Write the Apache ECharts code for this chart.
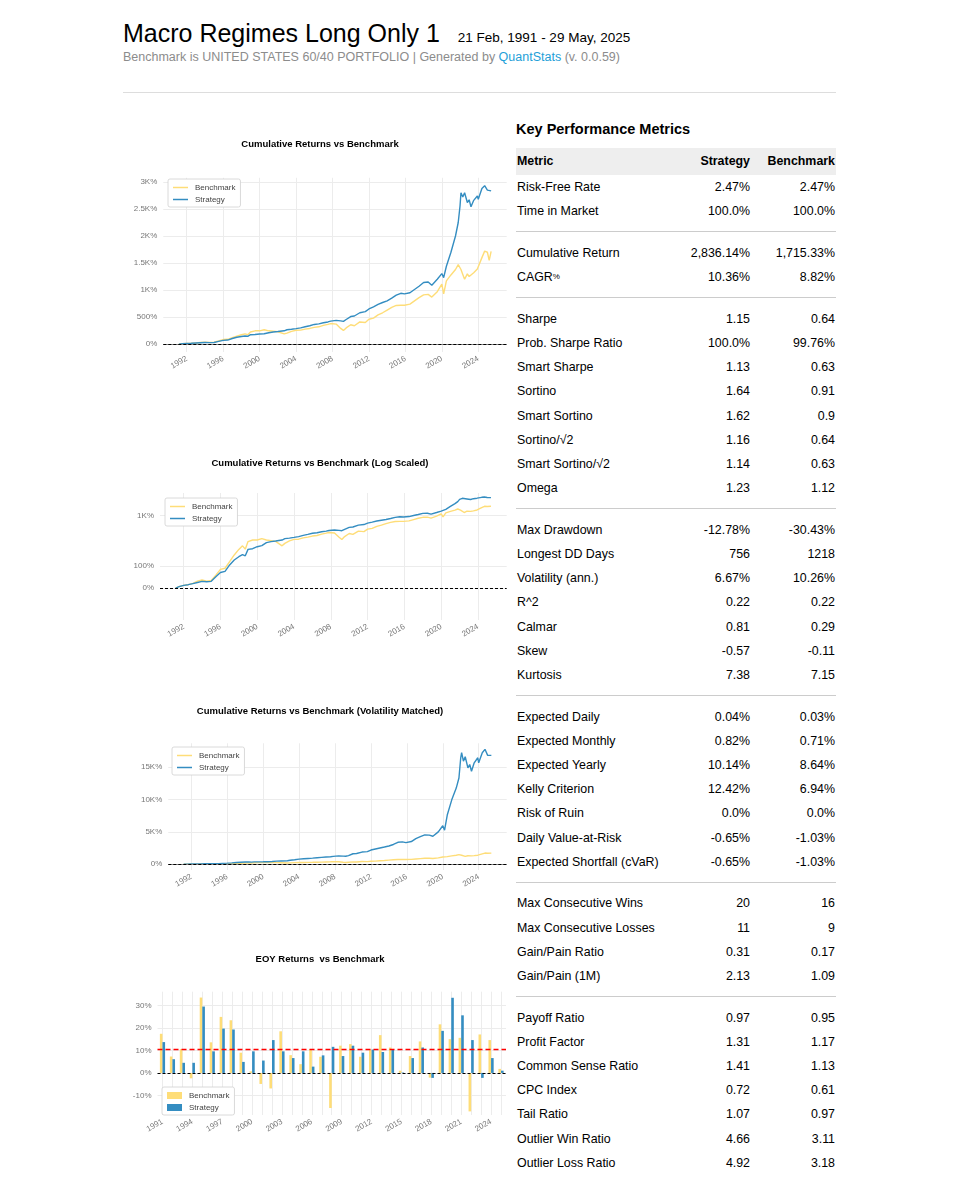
<!DOCTYPE html>
<html>
<head>
<meta charset="utf-8">
<script src="https://cdn.jsdelivr.net/npm/echarts@6.0.0/dist/echarts.min.js"></script>
<style>
body { margin: 0; background: #fff; font-family: Arial, "Liberation Sans", sans-serif; }
#page { position: relative; width: 960px; height: 1200px; }
.abs { position: absolute; white-space: nowrap; }
#head { left: 123px; top: 18.5px; line-height: 29px; display: flex; align-items: baseline; }
#head .t { font-size: 25px; color: #000; }
#head .d { font-size: 13.5px; color: #000; margin-left: 18px; }
#sub { left: 123px; top: 49.7px; font-size: 12.5px; line-height: 14px; color: #8c8c8c; }
#sub a { color: #1ea0d8; text-decoration: none; }
#rule { left: 123px; top: 92px; width: 713px; border-top: 1px solid #ddd; }
#kpm { left: 516px; top: 121px; font-size: 14.5px; line-height: 17px; font-weight: bold; color: #000; }
#metrics { left: 516px; top: 148px; width: 320px; font-size: 12.4px; color: #000; }
.row { position: relative; height: 24.2px; line-height: 24.2px; }
.row.head { height: 27px; line-height: 27px; background: #eee; font-weight: bold; }
.row span { position: absolute; top: 0; }
.c1 { left: 1px; }
.c2 { right: 86px; }
.c3 { right: 1px; }
.sep { position: relative; height: 17.5px; }
.sep div { position: absolute; left: 0; right: 0; top: 8px; border-top: 1px solid #ccc; }
.chart { position: absolute; left: 120px; width: 400px; }
</style>
</head>
<body>
<div id="page">
  <div id="head" class="abs"><span class="t">Macro Regimes Long Only 1</span><span class="d">21 Feb, 1991 - 29 May, 2025</span></div>
  <div id="sub" class="abs">Benchmark is UNITED STATES 60/40 PORTFOLIO | Generated by <a>QuantStats</a> (v. 0.0.59)</div>
  <div id="rule" class="abs"></div>
  <div id="kpm" class="abs">Key Performance Metrics</div>
  <div id="metrics" class="abs"></div>

  <div id="cumChart" class="chart" style="top:130px;height:250px"></div>
  <div id="logChart" class="chart" style="top:450px;height:200px"></div>
  <div id="volChart" class="chart" style="top:700px;height:200px"></div>
  <div id="eoyChart" class="chart" style="top:945px;height:200px"></div>
</div>

<script>
// ---- data (cumulative returns in %) ----
const years = [1991.14, 1991.5, 1992.0, 1992.5, 1993.0, 1993.5, 1994.0, 1994.5, 1995.0, 1995.5,
  1996.0, 1996.5, 1997.0, 1997.5, 1998.0, 1998.4, 1998.7, 1999.0, 1999.5, 2000.0,
  2000.5, 2001.0, 2001.5, 2002.0, 2002.7, 2003.0, 2003.5, 2004.0, 2004.5, 2005.0,
  2005.5, 2006.0, 2006.5, 2007.0, 2007.5, 2007.8, 2008.0, 2008.4, 2008.9, 2009.2,
  2009.5, 2010.0, 2010.4, 2011.0, 2011.6, 2012.0, 2012.5, 2013.0, 2013.5, 2014.0,
  2014.5, 2015.0, 2015.5, 2015.9, 2016.1, 2016.5, 2017.0, 2017.5, 2018.0, 2018.5,
  2018.9, 2019.5, 2020.0, 2020.2, 2020.5, 2021.0, 2021.5, 2021.8, 2022.0, 2022.1,
  2022.3, 2022.5, 2022.8, 2023.0, 2023.2, 2023.5, 2023.9, 2024.0, 2024.4, 2024.7,
  2025.0, 2025.2, 2025.41];
const benchCum = [0, 6, 12, 15, 21, 31, 36, 31, 34, 58,
  84, 89, 119, 149, 174, 190, 175, 225, 246, 246,
  266, 246, 237, 228, 190, 203, 235, 256, 258, 278,
  290, 309, 320, 346, 365, 380, 364, 370, 290, 253,
  300, 358, 340, 410, 400, 460, 480, 540, 580, 630,
  680, 715, 720, 720, 690, 740, 800, 860, 910, 920,
  870, 970, 1110, 930, 1170, 1280, 1380, 1470, 1450, 1380,
  1290, 1200, 1300, 1250, 1280, 1320, 1390, 1420, 1600, 1720,
  1700, 1550, 1715];
const stratCum = [0, 6, 12, 15, 20, 25, 30, 28, 30, 51,
  70, 75, 104, 126, 141, 150, 145, 174, 177, 186,
  191, 211, 224, 232, 246, 266, 275, 287, 300, 321,
  340, 364, 375, 395, 410, 425, 410, 440, 430, 420,
  455, 510, 520, 580, 600, 650, 690, 735, 770, 800,
  850, 905, 940, 930, 910, 950, 1010, 1070, 1140, 1150,
  1090, 1200, 1305, 1230, 1440, 1700, 2000, 2250, 2560, 2800,
  2720, 2800, 2620, 2670, 2540, 2660, 2740, 2680, 2880, 2930,
  2850, 2815, 2836];
const stratVolMatched = [0, 5, 25, 35, 55, 65, 75, 70, 80, 120,
  156, 200, 250, 300, 330, 340, 320, 350, 360, 365,
  380, 420, 470, 500, 540, 600, 680, 780, 830, 880,
  930, 990, 1050, 1100, 1150, 1200, 1250, 1280, 1250, 1230,
  1320, 1615, 1650, 1876, 1950, 2188, 2350, 2500, 2650, 2813,
  3050, 3386, 3450, 3334, 3300, 3500, 3959, 4250, 4532, 4500,
  4324, 5000, 5939, 5262, 7606, 9950, 11774, 13337, 16463, 17245,
  15942, 16619, 14900, 15421, 14379, 15681, 16463, 15681, 17245, 17766,
  16828, 16724, 16828];

const eoyYears = ['1991', '1992', '1993', '1994', '1995', '1996', '1997', '1998', '1999', '2000',
  '2001', '2002', '2003', '2004', '2005', '2006', '2007', '2008', '2009', '2010',
  '2011', '2012', '2013', '2014', '2015', '2016', '2017', '2018', '2019', '2020',
  '2021', '2022', '2023', '2024', '2025'];
const benchEoy = [17.4, 7.3, 10.6, -2.4, 33.5, 13.6, 24.9, 23.4, 9.0, 0.7,
  -4.9, -6.9, 18.5, 7.9, 3.9, 10.6, 7.2, -15.6, 12.1, 12.8,
  7.2, 10.4, 16.8, 11.3, 1.0, 7.5, 14.0, -2.1, 21.6, 15.0,
  15.6, -17.1, 17.1, 14.6, 1.8];
const stratEoy = [13.7, 6.1, 4.5, 4.5, 29.5, 9.6, 19.7, 19.3, 4.9, 9.6,
  5.5, 14.6, 9.6, 6.6, 9.6, 2.8, 7.8, 11.6, 7.5, 12.1,
  9.0, 10.4, 9.3, 10.4, 0.2, 6.6, 11.3, -2.2, 18.7, 33.4,
  25.6, 14.6, -2.2, 6.6, 1.0];

const xTicks = [1992, 1996, 2000, 2004, 2008, 2012, 2016, 2020, 2024];
const cumTicks = [0, 500, 1000, 1500, 2000, 2500, 3000];
const logTicks = [0, 100, 1000];
const volTicks = [0, 5000, 10000, 15000];
const eoyTicks = [-10, 0, 10, 20, 30];

const metrics = [
  ['Risk-Free Rate', '2.47%', '2.47%'],
  ['Time in Market', '100.0%', '100.0%'],
  null,
  ['Cumulative Return', '2,836.14%', '1,715.33%'],
  ['CAGR<span style="font-size:8px">%</span>', '10.36%', '8.82%'],
  null,
  ['Sharpe', '1.15', '0.64'],
  ['Prob. Sharpe Ratio', '100.0%', '99.76%'],
  ['Smart Sharpe', '1.13', '0.63'],
  ['Sortino', '1.64', '0.91'],
  ['Smart Sortino', '1.62', '0.9'],
  ['Sortino/√2', '1.16', '0.64'],
  ['Smart Sortino/√2', '1.14', '0.63'],
  ['Omega', '1.23', '1.12'],
  null,
  ['Max Drawdown', '-12.78%', '-30.43%'],
  ['Longest DD Days', '756', '1218'],
  ['Volatility (ann.)', '6.67%', '10.26%'],
  ['R^2', '0.22', '0.22'],
  ['Calmar', '0.81', '0.29'],
  ['Skew', '-0.57', '-0.11'],
  ['Kurtosis', '7.38', '7.15'],
  null,
  ['Expected Daily', '0.04%', '0.03%'],
  ['Expected Monthly', '0.82%', '0.71%'],
  ['Expected Yearly', '10.14%', '8.64%'],
  ['Kelly Criterion', '12.42%', '6.94%'],
  ['Risk of Ruin', '0.0%', '0.0%'],
  ['Daily Value-at-Risk', '-0.65%', '-1.03%'],
  ['Expected Shortfall (cVaR)', '-0.65%', '-1.03%'],
  null,
  ['Max Consecutive Wins', '20', '16'],
  ['Max Consecutive Losses', '11', '9'],
  ['Gain/Pain Ratio', '0.31', '0.17'],
  ['Gain/Pain (1M)', '2.13', '1.09'],
  null,
  ['Payoff Ratio', '0.97', '0.95'],
  ['Profit Factor', '1.31', '1.17'],
  ['Common Sense Ratio', '1.41', '1.13'],
  ['CPC Index', '0.72', '0.61'],
  ['Tail Ratio', '1.07', '0.97'],
  ['Outlier Win Ratio', '4.66', '3.11'],
  ['Outlier Loss Ratio', '4.92', '3.18']
];

// ---- metrics table ----
let html = '<div class="row head"><span class="c1">Metric</span><span class="c2">Strategy</span><span class="c3">Benchmark</span></div>';
metrics.forEach(r => {
  if (!r) { html += '<div class="sep"><div></div></div>'; return; }
  html += '<div class="row"><span class="c1">' + r[0] + '</span><span class="c2">' + r[1] + '</span><span class="c3">' + r[2] + '</span></div>';
});
document.getElementById('metrics').innerHTML = html;

// ---- charts ----
const FONT = 'Arial, "Liberation Sans", sans-serif';
const BENCH = '#fedd78';
const STRAT = '#348dc1';
const TICK = { fontSize: 8, color: '#777', fontFamily: FONT };
const GRIDLINE = { show: true, lineStyle: { color: '#ececec', width: 1 } };

// matplotlib symlog (linthresh 2, linscale 1) applied to the return as a fraction
function symlog(pct) {
  let x = pct / 100, a = Math.abs(x), c = 1 / (1 - 1 / 10);
  let y = a <= 2 ? a * c : 2 * (c + Math.log10(a / 2));
  return x < 0 ? -y : y;
}
function pctLabel(v) {
  if (v === 0) return '0%';
  if (Math.abs(v) >= 1000) return (v / 1000) + 'K%';
  return v + '%';
}
function pairs(xs, ys, f) {
  return xs.map((x, i) => [x, f ? f(ys[i]) : ys[i]]);
}

function zeroLine(thick) {
  return {
    silent: true, symbol: 'none', animation: false, label: { show: false },
    data: [
      { yAxis: 0, lineStyle: { color: '#888', type: 'solid', width: thick ? 1 : 0 } },
      { yAxis: 0, lineStyle: { color: '#000', type: [3, 2], width: 1 } }
    ]
  };
}
function title(text, top) {
  return { text: text, left: 'center', top: top, padding: 0,
    textStyle: { fontSize: 9.5, fontWeight: 'bold', color: '#000', fontFamily: FONT } };
}
function legend(left, top, icon, w, h) {
  return {
    orient: 'vertical', left: left, top: top, icon: icon, itemWidth: w, itemHeight: h,
    itemGap: 3, padding: [4, 5, 3, 5], backgroundColor: '#fff', borderColor: '#d0d0d0',
    borderWidth: 0.8, borderRadius: 2, selectedMode: false,
    textStyle: { fontSize: 8, color: '#444', fontFamily: FONT, lineHeight: 9, padding: [0, 0, 0, 2] },
    data: ['Benchmark', 'Strategy']
  };
}
function yearAxis() {
  return {
    type: 'value', min: 1989.43, max: 2027.12,
    axisLine: { show: false },
    axisTick: { show: false, customValues: xTicks },
    axisLabel: Object.assign({ customValues: xTicks, rotate: 30, margin: 6, formatter: v => String(v) }, TICK),
    splitLine: GRIDLINE
  };
}
function valueAxis(min, max, ticks, fmt) {
  return {
    type: 'value', min: min, max: max,
    axisLine: { show: false },
    axisTick: { show: false, customValues: ticks },
    axisLabel: Object.assign({ customValues: ticks, margin: 6, formatter: fmt }, TICK),
    splitLine: GRIDLINE
  };
}
function lineSeries(name, color, data, mark) {
  let s = { name: name, type: 'line', data: data, symbol: 'none', animation: false,
    lineStyle: { color: color, width: 1.4 }, itemStyle: { color: color } };
  if (mark) s.markLine = mark;
  return s;
}

function cumChart() {
  let option = {
    animation: false,
    title: title('Cumulative Returns vs Benchmark', 9),
    legend: legend(48, 49, 'rect', 15, 1.5),
    grid: { left: 43.3, right: 13.3, top: 47.8, bottom: 28, outerBoundsMode: 'none' },
    xAxis: yearAxis(),
    yAxis: valueAxis(-146, 3077, cumTicks, pctLabel),
    series: [
      lineSeries('Benchmark', BENCH, pairs(years, benchCum), zeroLine(true)),
      lineSeries('Strategy', STRAT, pairs(years, stratCum))
    ]
  };
  echarts.init(document.getElementById('cumChart')).setOption(option);
}

function logChart() {
  let option = {
    animation: false,
    title: title('Cumulative Returns vs Benchmark (Log Scaled)', 8),
    legend: legend(45, 48, 'rect', 15, 1.5),
    grid: { left: 40, right: 13.3, top: 43, bottom: 30, outerBoundsMode: 'none' },
    xAxis: yearAxis(),
    yAxis: valueAxis(-1.6, 4.755, logTicks.map(symlog),
      v => pctLabel(logTicks.find(t => Math.abs(symlog(t) - v) < 1e-6))),
    series: [
      lineSeries('Benchmark', BENCH, pairs(years, benchCum, symlog), zeroLine(false)),
      lineSeries('Strategy', STRAT, pairs(years, stratCum, symlog))
    ]
  };
  echarts.init(document.getElementById('logChart')).setOption(option);
}

function volChart() {
  let option = {
    animation: false,
    title: title('Cumulative Returns vs Benchmark (Volatility Matched)', 6),
    legend: legend(52, 47, 'rect', 15, 1.5),
    grid: { left: 48.3, right: 13.3, top: 43.3, bottom: 30, outerBoundsMode: 'none' },
    xAxis: yearAxis(),
    yAxis: valueAxis(-900, 18700, volTicks, pctLabel),
    series: [
      lineSeries('Benchmark', BENCH, pairs(years, benchCum), zeroLine(true)),
      lineSeries('Strategy', STRAT, pairs(years, stratVolMatched))
    ]
  };
  echarts.init(document.getElementById('volChart')).setOption(option);
}

function eoyChart() {
  let option = {
    animation: false,
    title: title('EOY Returns  vs Benchmark', 9),
    legend: legend(42, 142, 'rect', 15, 7),
    grid: { left: 37.5, right: 14, top: 46.7, bottom: 30, outerBoundsMode: 'none' },
    xAxis: {
      type: 'category', data: eoyYears, boundaryGap: true,
      axisLine: { show: false },
      axisTick: { show: false, alignWithLabel: true },
      axisLabel: Object.assign({ interval: 2, rotate: 30, margin: 6 }, TICK),
      splitLine: { show: true, interval: 0, alignWithLabel: true, lineStyle: { color: '#ececec', width: 1 } }
    },
    yAxis: valueAxis(-18.7, 36.1, eoyTicks, v => v + '%'),
    series: [
      { name: 'Benchmark', type: 'bar', data: benchEoy, barWidth: 2.6, barGap: '0%',
        itemStyle: { color: BENCH }, animation: false, markLine: zeroLine(false) },
      { name: 'Strategy', type: 'bar', data: stratEoy, barWidth: 2.6, barGap: '0%',
        itemStyle: { color: STRAT }, animation: false,
        markLine: { silent: true, symbol: 'none', animation: false, label: { show: false },
          data: [{ type: 'average', lineStyle: { color: '#f00', type: [5, 3], width: 1.3 } }] } }
    ]
  };
  echarts.init(document.getElementById('eoyChart')).setOption(option);
}

cumChart();
logChart();
volChart();
eoyChart();
</script>
</body>
</html>
